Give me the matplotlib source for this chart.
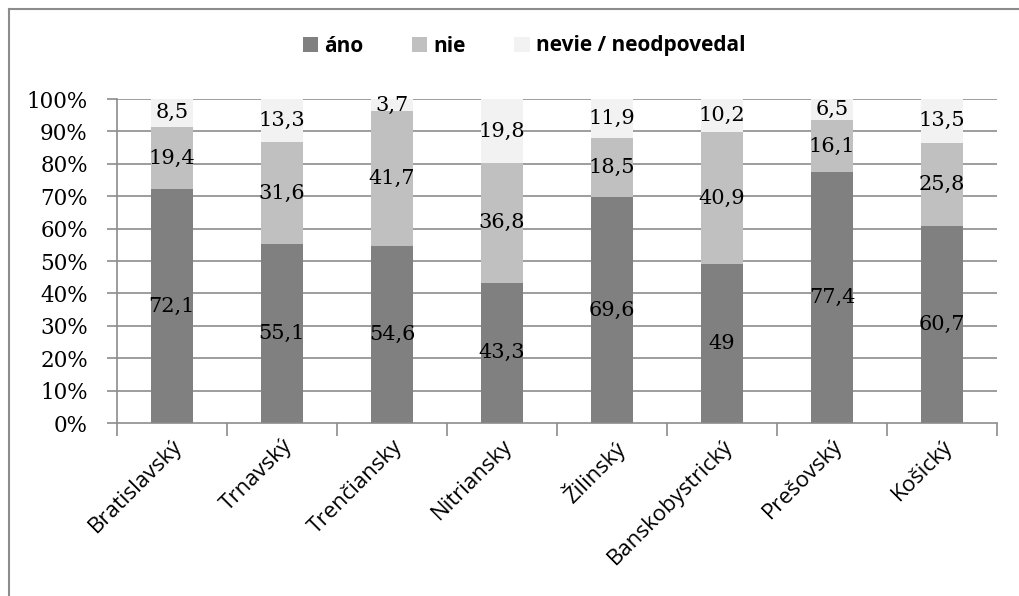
import matplotlib
matplotlib.use('Agg')
import matplotlib.pyplot as plt
from matplotlib.lines import Line2D
import numpy as np

# data
regions = ['Bratislavský', 'Trnavský', 'Trenčiansky', 'Nitriansky',
           'Žilinský', 'Banskobystrický', 'Prešovský', 'Košický']
ano = [72.1, 55.1, 54.6, 43.3, 69.6, 49, 77.4, 60.7]
nie = [19.4, 31.6, 41.7, 36.8, 18.5, 40.9, 16.1, 25.8]
nevie = [8.5, 13.3, 3.7, 19.8, 11.9, 10.2, 6.5, 13.5]
series_names = ['áno', 'nie', 'nevie / neodpovedal']
colors = ['#808080', '#c0c0c0', '#f2f2f2']

fig = plt.figure(figsize=(10.2, 5.96), dpi=100)
ax = fig.add_axes([117/1020, 1 - 423/596, (997-117)/1020, (423-99)/596])

series = [np.array(ano), np.array(nie), np.array(nevie)]
totals = series[0] + series[1] + series[2]
x = np.arange(len(regions))
bottom = np.zeros(len(regions))

# gridlines behind bars
for yv in np.arange(0.1, 1.01, 0.1):
    ax.axhline(yv, color='#8c8c8c', linewidth=1.2, zorder=1)

for name, vals, col in zip(series_names, series, colors):
    frac = vals / totals
    ax.bar(x, frac, width=0.39, bottom=bottom, color=col, label=name,
           zorder=2, linewidth=0)
    for xi, b, f, v in zip(x, bottom, frac, vals):
        ax.text(xi, b + f / 2, f'{v:g}'.replace('.', ','), ha='center',
                va='center', fontsize=15, family='DejaVu Serif',
                color='black', zorder=3)
    bottom = bottom + frac

ax.set_xlim(-0.5, len(regions) - 0.5)
ax.set_ylim(0, 1)
ax.set_yticks(np.arange(0, 1.01, 0.1))
ax.set_yticklabels([f'{int(round(v*100))}%' for v in np.arange(0, 1.01, 0.1)],
                   fontsize=15.5, family='DejaVu Serif')
ax.set_xticks(x)
ax.set_xticklabels(regions, rotation=45, ha='right', rotation_mode='anchor',
                   fontsize=16, family='Open Sans')
ax.set_xticks(np.arange(-0.5, len(regions)), minor=True)
ax.tick_params(axis='x', which='major', length=0, pad=9)
ax.tick_params(axis='x', which='minor', length=9, width=1.2, color='#8c8c8c')
ax.tick_params(axis='y', length=7, width=1.2, color='#8c8c8c', pad=14)

for s in ['top', 'right']:
    ax.spines[s].set_visible(False)
for s in ['left', 'bottom']:
    ax.spines[s].set_color('#8c8c8c')
    ax.spines[s].set_linewidth(1.2)

ax.legend(loc='center', ncol=3, frameon=False, handlelength=0.75,
          handleheight=0.75, handletextpad=0.3, columnspacing=2.3,
          prop={'size': 15, 'family': 'Open Sans', 'weight': 'bold'})
leg = ax.get_legend()
leg.set_bbox_to_anchor((524/1020, 1 - 46/596), transform=fig.transFigure)

# outer chart frame (left and top edges visible)
fig.add_artist(Line2D([9/1020, 9/1020], [0, 1 - 9/596], color='#8c8c8c',
                      linewidth=1.5, transform=fig.transFigure))
fig.add_artist(Line2D([9/1020, 1], [1 - 9/596, 1 - 9/596], color='#8c8c8c',
                      linewidth=1.5, transform=fig.transFigure))

fig.savefig('out.png', dpi=100)
